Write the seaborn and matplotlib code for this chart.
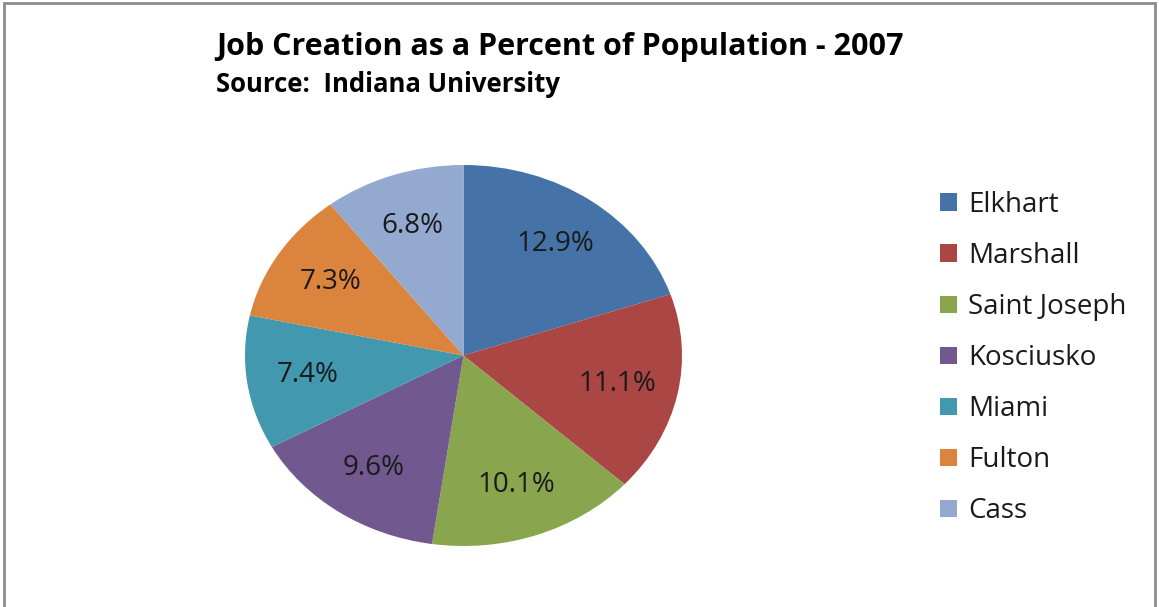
import matplotlib
matplotlib.use("Agg")
import matplotlib.pyplot as plt
import seaborn as sns
from matplotlib.patches import Rectangle

sns.set_style("white")
plt.rcParams["font.family"] = ["Open Sans", "DejaVu Sans"]

counties = ["Elkhart", "Marshall", "Saint Joseph", "Kosciusko", "Miami", "Fulton", "Cass"]
job_pct = [12.9, 11.1, 10.1, 9.6, 7.4, 7.3, 6.8]
colors = ["#4572A7", "#AA4643", "#89A54E", "#71588F", "#4198AF", "#DB843D", "#93A9CF"]

total = sum(job_pct)

fig = plt.figure(figsize=(11.59, 6.07), dpi=100)
# pie drawn in a non-square axes so it comes out as an ellipse, like the original
ax = fig.add_axes([245 / 1159, 61 / 607, 437 / 1159, 381 / 607])
wedges, texts, autotexts = ax.pie(
    job_pct,
    colors=colors,
    startangle=90,
    counterclock=False,
    autopct=lambda p: f"{p * total / 100:.1f}%",
    pctdistance=0.72,
    textprops={"fontsize": 20, "color": "#1a1a1a"},
    wedgeprops={"linewidth": 0},
)
ax.set_aspect("auto")
ax.set_xlim(-1, 1)
ax.set_ylim(-1, 1)
ax.axis("off")

fig.text(216 / 1159, 1 - 47 / 607, "Job Creation as a Percent of Population - 2007",
         fontsize=22, fontweight="bold", va="center", ha="left", color="#000000")
fig.text(216 / 1159, 1 - 85 / 607, "Source:  Indiana University",
         fontsize=18.5, fontweight="bold", va="center", ha="left", color="#000000")

fig.legend(wedges, counties, loc="upper left", bbox_to_anchor=(915 / 1159, 1 - 166 / 607),
           frameon=False, fontsize=20, handlelength=0.6, handleheight=0.6,
           handletextpad=0.4, labelspacing=0.83, labelcolor="#1a1a1a")

fig.patches.append(Rectangle((4 / 1159, -0.01), 1151 / 1159, 1.01 - 3 / 607,
                             transform=fig.transFigure, fill=False,
                             edgecolor="#8c8c8c", linewidth=2))

plt.savefig("out.png", dpi=100)
plt.close()
